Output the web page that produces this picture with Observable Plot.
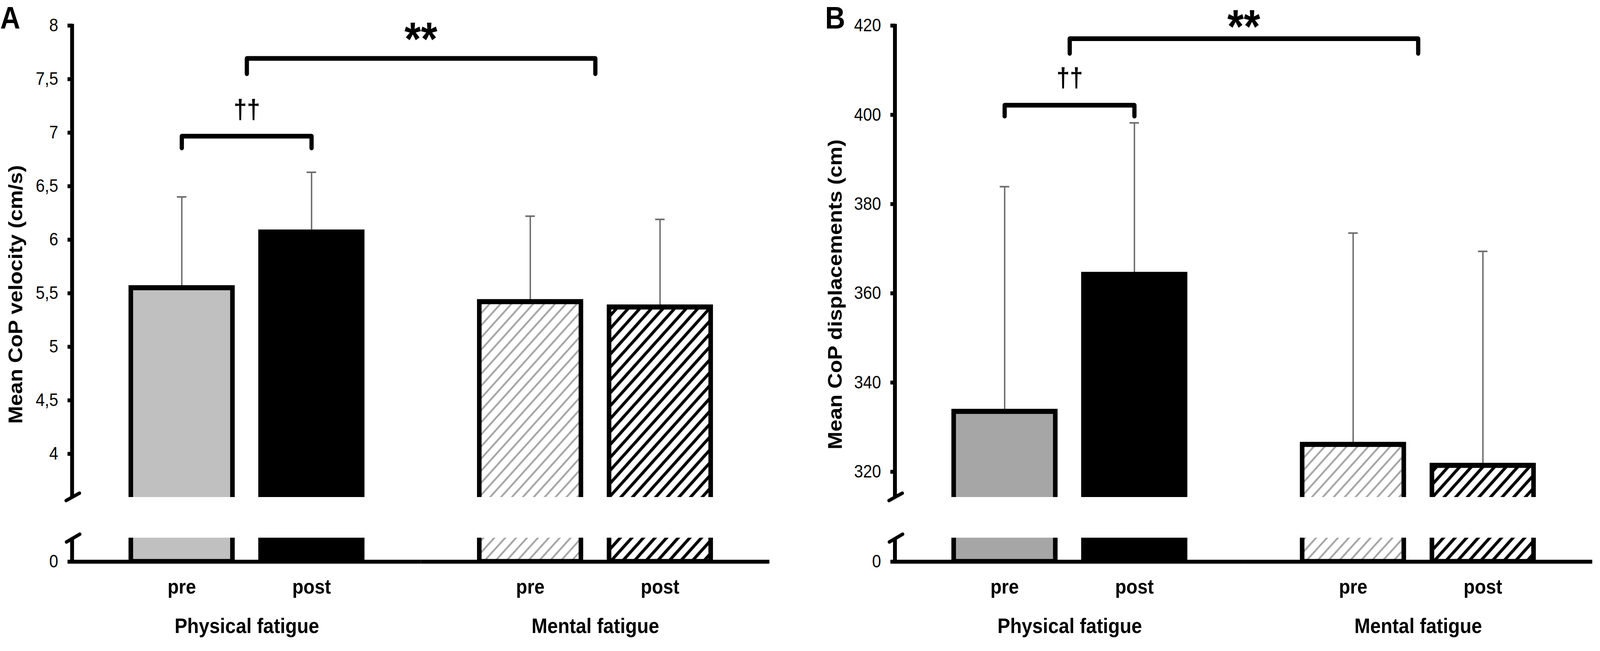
<!DOCTYPE html>
<html>
<head>
<meta charset="utf-8">
<script src="https://cdn.jsdelivr.net/npm/d3@7"></script>
<script src="https://cdn.jsdelivr.net/npm/@observablehq/plot@0.6"></script>
<style>
  html, body { margin: 0; padding: 0; background: #fff; overflow: hidden; }
  #wrap { position: relative; overflow: hidden; width: 4550px; height: 1666px; background: #fff; }
  #fig { position: absolute; left: 0; top: 0; width: 4550px; height: 1666px; background: #fff; transform-origin: 0 0; }
  .panel { position: absolute; top: 0; width: 2275px; height: 1666px; }
</style>
</head>
<body>
<svg width="0" height="0" style="position:absolute">
  <defs>
    <pattern id="hatchLight" patternUnits="userSpaceOnUse" width="31" height="31">
      <path d="M-8,8 L8,-8 M0,31 L31,0 M23,39 L39,23" stroke="#a6a6a6" stroke-width="5" fill="none"/>
    </pattern>
    <pattern id="hatchDark" patternUnits="userSpaceOnUse" width="33" height="33">
      <path d="M-8,8 L8,-8 M0,33 L33,0 M25,41 L41,25" stroke="#000" stroke-width="8" fill="none"/>
    </pattern>
  </defs>
</svg>
<div id="wrap"><div id="fig"></div></div>
<script>
// ---------------- data ----------------
const groups = ["Physical fatigue", "Mental fatigue"];
const times = ["pre", "post"];
const barGroup = ["Physical fatigue", "Physical fatigue", "Mental fatigue", "Mental fatigue"];
const barTime = ["pre", "post", "pre", "post"];

// Panel A : Mean CoP velocity (cm/s)
const meanVelocity = [5.55, 6.07, 5.42, 5.37];
const sdVelocity = [0.85, 0.56, 0.80, 0.82];
const ticksVelocity = [4, 4.5, 5, 5.5, 6, 6.5, 7, 7.5, 8];

// Panel B : Mean CoP displacements (cm)
const meanDisplacement = [333.5, 364.2, 326.1, 321.4];
const sdDisplacement = [50.4, 34.0, 47.4, 48.0];
const ticksDisplacement = [320, 340, 360, 380, 400, 420];

// significance annotations (data units)
const daggerA = {group: "Physical fatigue", from: "pre", to: "post", top: 6.967, leg: 0.11, label: "††", labelY: 7.135};
const daggerB = {group: "Physical fatigue", from: "pre", to: "post", top: 402.15, leg: 2.45, label: "††", labelY: 406.3};
const starA = {from: "Physical fatigue", to: "Mental fatigue", top: 7.693, leg: 0.143, label: "**", labelY: 7.723};
const starB = {from: "Physical fatigue", to: "Mental fatigue", top: 417.07, leg: 3.3, label: "**", labelY: 416.15};

// ---------------- styles ----------------
const FONT = "'Liberation Sans', Arial, Helvetica, sans-serif";
const W = 2275, H_UP = 1292, MT = 65, MB_UP = 20;
const LOW_TOP = 1356, H_LOW = 310, MT_LOW = 20, MB_LOW = 229;
const ERR = "#6b6b6b";

function buildPanel(p) {
  const rows = p.means.map((m, i) => ({group: barGroup[i], time: barTime[i], mean: m, sd: p.sds[i]}));
  const fillOf = d => p.fills[d.group + "|" + d.time];
  const fxScale = {domain: groups, paddingInner: 0, paddingOuter: 0, axis: null};
  const xScale = {domain: times, paddingInner: 0.216, paddingOuter: 0.45, axis: null};
  const style = {fontFamily: FONT, background: "transparent", maxWidth: "none", overflow: "visible", color: "black"};
  const dg = p.dagger;
  const daggerPts = [
    {group: dg.group, time: dg.from, y: dg.top - dg.leg},
    {group: dg.group, time: dg.from, y: dg.top},
    {group: dg.group, time: dg.to, y: dg.top},
    {group: dg.group, time: dg.to, y: dg.top - dg.leg}
  ];
  const st = p.star;
  const starPts = [
    {g: st.from, y: st.top - st.leg},
    {g: st.from, y: st.top},
    {g: st.to, y: st.top},
    {g: st.to, y: st.top - st.leg}
  ];

  const upper = Plot.plot({
    width: W, height: H_UP, marginTop: MT, marginBottom: MB_UP, marginLeft: p.ml, marginRight: p.mr,
    fx: fxScale, x: xScale,
    y: {domain: p.yDomain, axis: null},
    style,
    marks: [
      Plot.ruleX(rows, {fx: "group", x: "time", y1: "mean", y2: d => d.mean + d.sd, stroke: ERR, strokeWidth: 4}),
      Plot.tickY(rows, {fx: "group", x: "time", y: d => d.mean + d.sd, stroke: ERR, strokeWidth: 4, insetLeft: 131, insetRight: 131}),
      Plot.barY(rows, {fx: "group", x: "time", y: "mean", fill: fillOf, stroke: "black", strokeWidth: 13, clip: true}),
      Plot.line(daggerPts, {fx: "group", x: "time", y: "y", stroke: "black", strokeWidth: 12, strokeLinejoin: "round"}),
      Plot.text([dg], {fx: "group", y: "labelY", text: "label", lineAnchor: "bottom", fontSize: 68, fontWeight: "bold"}),
      Plot.axisY({ticks: p.ticks, tickFormat: p.fmt, tickSize: 14, tickPadding: 27, fontSize: 46, strokeWidth: 10, label: null})
    ]
  });

  const overlay = Plot.plot({
    width: W, height: H_UP, marginTop: MT, marginBottom: MB_UP, marginLeft: p.ml, marginRight: p.mr,
    x: {type: "band", domain: groups, paddingInner: 0, paddingOuter: 0, axis: null},
    y: {domain: p.yDomain, axis: null},
    style,
    marks: [
      Plot.line(starPts, {x: "g", y: "y", stroke: "black", strokeWidth: 12, strokeLinejoin: "round"}),
      Plot.text([st], {y: "labelY", text: "label", lineAnchor: "bottom", fontSize: 120, fontWeight: "bold"}),
      Plot.text([p.letter], {text: d => d, frameAnchor: "top-left", dx: p.letterDx, dy: 7, textAnchor: "start", lineAnchor: "bottom", fontSize: 79, fontWeight: "bold"}),
      Plot.text([p.yTitle], {text: d => d, frameAnchor: "left", rotate: -90, dx: p.titleDx, dy: 84.5, textAnchor: "middle", lineAnchor: "bottom", fontSize: 55, fontWeight: "bold"})
    ]
  });

  const lower = Plot.plot({
    width: W, height: H_LOW, marginTop: MT_LOW, marginBottom: MB_LOW, marginLeft: p.ml, marginRight: p.mr,
    fx: fxScale, x: xScale,
    y: {domain: [0, p.lowTop], axis: null},
    style,
    marks: [
      Plot.barY(rows, {fx: "group", x: "time", y: "mean", fill: fillOf, stroke: "black", strokeWidth: 13, clip: true}),
      Plot.ruleY([0], {stroke: "black", strokeWidth: 10}),
      Plot.axisY({ticks: [0], tickFormat: p.fmt, tickSize: 14, tickPadding: 27, fontSize: 46, strokeWidth: 10, label: null}),
      Plot.axisX({tickSize: 0, tickPadding: 45, fontSize: 52, fontWeight: "bold", label: null}),
      Plot.text(groups, {fx: d => d, text: d => d, frameAnchor: "bottom", dy: 182, lineAnchor: "bottom", fontSize: 54, fontWeight: "bold"})
    ]
  });

  // axis spines and break marks, positioned with Plot's own y scales
  const ml = p.ml;
  const yU = upper.scale("y");
  const uTop = yU.apply(p.yDomain[1]), uBot = yU.apply(p.yDomain[0]);
  const su = d3.select(upper);
  su.append("path").attr("d", `M${ml},${uTop - 4}V${uBot}`).attr("stroke", "#000").attr("stroke-width", 11).attr("fill", "none");
  su.append("path").attr("d", `M${ml - 17},${uBot + 9}L${ml + 21},${uBot - 10}`).attr("stroke", "#000").attr("stroke-width", 9).attr("stroke-linecap", "round");

  const yL = lower.scale("y");
  const lTop = yL.apply(p.lowTop), lBot = yL.apply(0);
  const sl = d3.select(lower);
  sl.append("path").attr("d", `M${ml},${lTop}V${lBot + 5}`).attr("stroke", "#000").attr("stroke-width", 11).attr("fill", "none");
  sl.append("path").attr("d", `M${ml - 16},${lTop + 11}L${ml + 22},${lTop - 9}`).attr("stroke", "#000").attr("stroke-width", 9).attr("stroke-linecap", "round");

  const panel = document.createElement("div");
  panel.className = "panel";
  panel.style.left = p.left + "px";
  for (const [svg, top] of [[upper, 0], [overlay, 0], [lower, LOW_TOP]]) {
    svg.style.position = "absolute";
    svg.style.left = "0px";
    svg.style.top = top + "px";
    panel.appendChild(svg);
  }
  document.getElementById("fig").appendChild(panel);
}

const commaFmt = d => String(d).replace(".", ",");

buildPanel({
  left: 0, ml: 205, mr: 87,
  means: meanVelocity, sds: sdVelocity,
  yDomain: [3.595, 8], lowTop: 0.22, ticks: ticksVelocity, fmt: commaFmt,
  fills: {"Physical fatigue|pre": "#c0c0c0", "Physical fatigue|post": "#000000",
          "Mental fatigue|pre": "url(#hatchLight)", "Mental fatigue|post": "url(#hatchDark)"},
  dagger: daggerA, star: starA,
  letter: "A", letterDx: -205,
  yTitle: "Mean CoP velocity (cm/s)", titleDx: -142
});

buildPanel({
  left: 2275, ml: 270, mr: 22,
  means: meanDisplacement, sds: sdDisplacement,
  yDomain: [314.3, 420], lowTop: 5.3, ticks: ticksDisplacement, fmt: d => String(d),
  fills: {"Physical fatigue|pre": "#a6a6a6", "Physical fatigue|post": "#000000",
          "Mental fatigue|pre": "url(#hatchLight)", "Mental fatigue|post": "url(#hatchDark)"},
  dagger: daggerB, star: starB,
  letter: "B", letterDx: -199,
  yTitle: "Mean CoP displacements (cm)", titleDx: -152
});

// fit the 4550x1666 figure to the visible viewport
function fitFigure() {
  const wrap = document.getElementById("wrap");
  const fig = document.getElementById("fig");
  const vw = window.innerWidth || 4550, vh = window.innerHeight || 1666;
  const sx = Math.min(1, vw / 4550), sy = Math.min(1, vh / 1666);
  fig.style.transform = (sx < 0.999 || sy < 0.999) ? `scale(${sx}, ${sy})` : "";
  wrap.style.width = Math.floor(4550 * sx) + "px";
  wrap.style.height = Math.floor(1666 * sy) + "px";
}
fitFigure();
window.addEventListener("resize", fitFigure);
</script>
</body>
</html>
